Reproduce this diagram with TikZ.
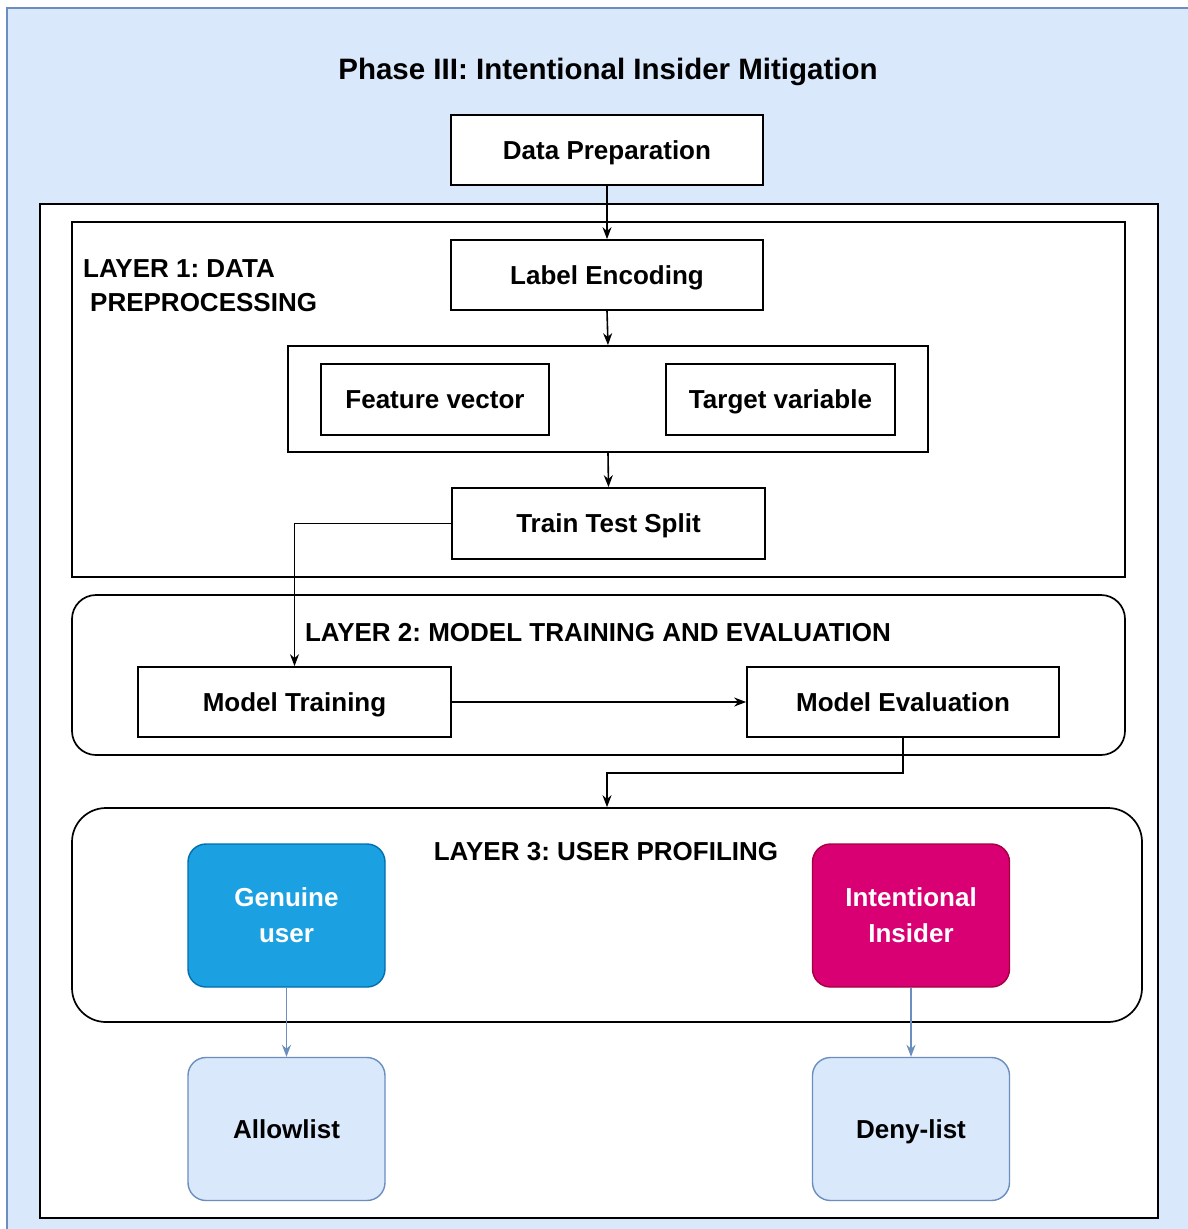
\documentclass[tikz,border=0pt]{standalone}
\usepackage{fontspec}
\setmainfont{Liberation Sans}
\usetikzlibrary{arrows.meta,calc}

\definecolor{bgblue}{HTML}{DAE8FC}
\definecolor{bgline}{HTML}{6C8EBF}
\definecolor{genfill}{HTML}{1BA1E2}
\definecolor{genline}{HTML}{006EAF}
\definecolor{insfill}{HTML}{D80073}
\definecolor{insline}{HTML}{A50040}

\frenchspacing

\tikzset{
  lbl/.style={font=\fontsize{26}{34}\selectfont\bfseries, inner sep=0pt,
    text height=22pt, text depth=4pt},
  procbox/.style={draw=black, line width=1.7pt, fill=white, inner sep=0pt,
    font=\fontsize{26}{34}\selectfont\bfseries, text height=22pt, text depth=4pt},
  userbox/.style={rounded corners=18pt, line width=1.4pt, inner sep=0pt,
    minimum width=197pt, minimum height=143pt, align=center,
    font=\fontsize{26}{36}\selectfont\bfseries},
  listbox/.style={userbox, draw=bgline, fill=bgblue, text height=22pt, text depth=4pt},
  layerbox/.style={draw=black, line width=1.7pt, inner sep=0pt},
  flow/.style={draw=black, line width=1.6pt, -{Stealth[length=12pt,width=9pt]}},
  blueflow/.style={draw=bgline, line width=1.5pt, -{Stealth[length=12pt,width=9pt]}},
}

\begin{document}
\begin{tikzpicture}[x=1pt, y=-1pt]
  \useasboundingbox (0,0) rectangle (1187,1229);

  % phase background and white container
  \draw[fill=bgblue, draw=bgline, line width=1.4pt] (7,8) rectangle (1200,1240);
  \node[draw=black, line width=1.7pt, fill=white, inner sep=0pt,
        minimum width=1118pt, minimum height=1014pt] (container) at (599,711) {};

  \node[font=\fontsize{29.5}{34}\selectfont\bfseries, inner sep=0pt,
        text height=24pt, text depth=3pt] (title) at (608,69)
    {Phase III: Intentional Insider Mitigation};

  % layer frames
  \node[layerbox, minimum width=1053pt, minimum height=355pt] (layer1) at (598.5,399.5) {};
  \node[layerbox, rounded corners=24pt, minimum width=1053pt, minimum height=160pt] (layer2) at (598.5,675) {};
  \node[layerbox, rounded corners=34pt, minimum width=1070pt, minimum height=214pt] (layer3) at (607,915) {};

  \node[lbl, anchor=base west] (l1a) at (83,277) {LAYER 1: DATA};
  \node[lbl, anchor=base west] (l1b) at (90,311) {PREPROCESSING};
  \node[lbl] (l2) at (598,632) {LAYER 2: MODEL TRAINING AND EVALUATION};
  \node[lbl] (l3) at (606,851) {LAYER 3: USER PROFILING};

  % process steps
  \node[procbox, minimum width=312pt, minimum height=70pt] (dataprep) at (607,150) {Data Preparation};
  \node[procbox, minimum width=312pt, minimum height=70pt] (labelenc) at (607,275) {Label Encoding};
  \node[procbox, minimum width=640pt, minimum height=106pt] (group) at (608,399) {};
  \node[procbox, minimum width=228pt, minimum height=71pt] (featvec) at (435,399.5) {Feature vector};
  \node[procbox, minimum width=229pt, minimum height=71pt] (target) at (780.5,399.5) {Target variable};
  \node[procbox, minimum width=313pt, minimum height=71pt] (split) at (608.5,523.5) {Train Test Split};
  \node[procbox, minimum width=313pt, minimum height=70pt] (train) at (294.5,702) {Model Training};
  \node[procbox, minimum width=312pt, minimum height=70pt] (evalbox) at (903,702) {Model Evaluation};

  % user profiles and lists
  \node[userbox, draw=genline, fill=genfill, text=white] (genuine) at (286.5,915.5) {Genuine\\user};
  \node[userbox, draw=insline, fill=insfill, text=white] (insider) at (911,915.5) {Intentional\\Insider};
  \node[listbox] (allow) at (286.5,1129) {Allowlist};
  \node[listbox] (deny) at (911,1129) {Deny-list};

  % connectors
  \coordinate (bendy) at (0,773);
  \draw[flow] (dataprep.south) -- (labelenc.north);
  \draw[flow] (labelenc.south) -- (group.north);
  \draw[flow] (group.south) -- (split.north);
  \draw[flow] (split.west) -| (train.north);
  \draw[flow] (train.east) -- (evalbox.west);
  \draw[flow] (evalbox.south) -- (evalbox.south |- bendy) -| (layer3.north);
  \draw[blueflow] (genuine.south) -- (allow.north);
  \draw[blueflow] (insider.south) -- (deny.north);
\end{tikzpicture}
\end{document}
